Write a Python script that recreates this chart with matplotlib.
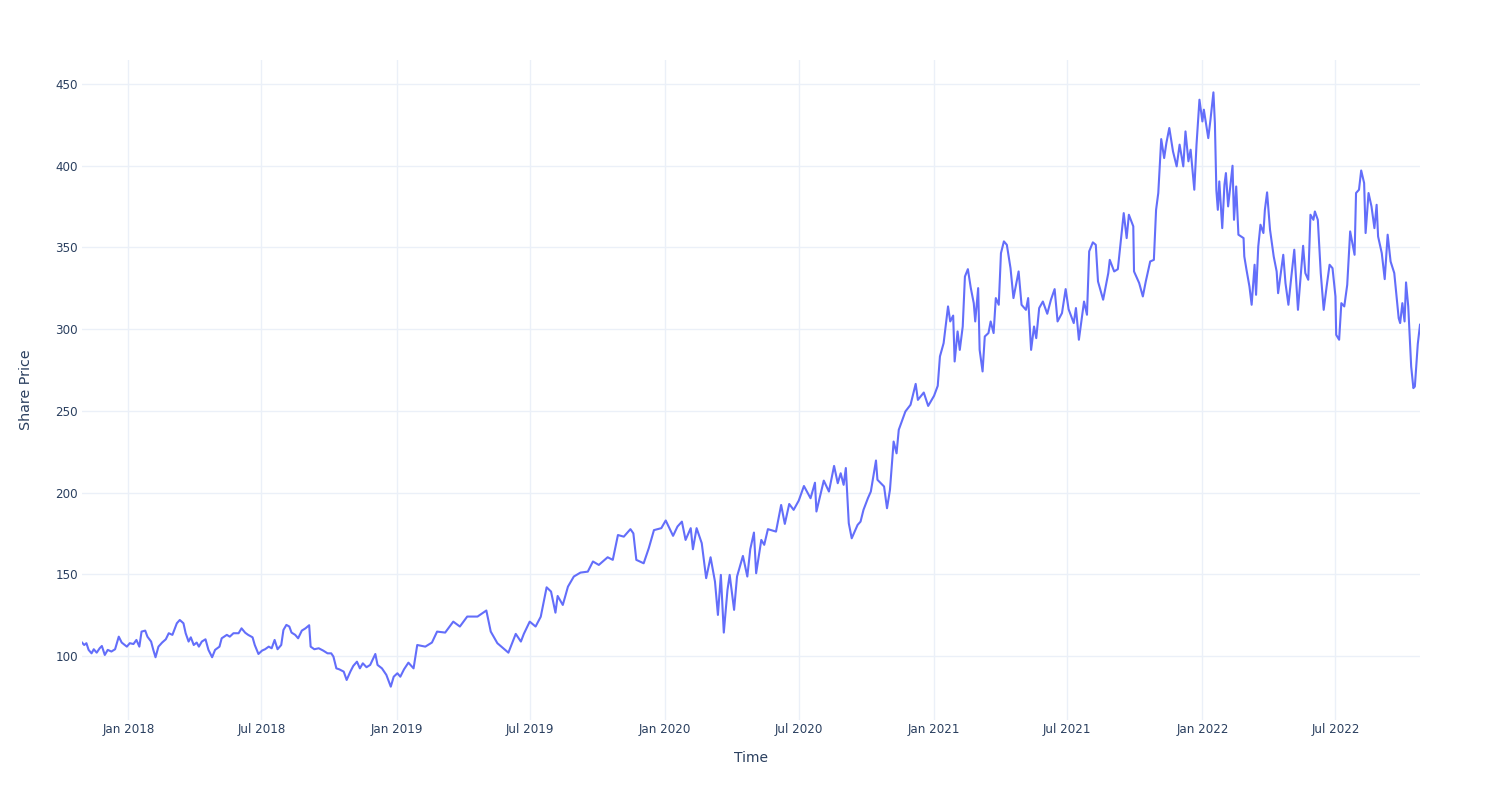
import matplotlib
matplotlib.use("Agg")
import matplotlib.pyplot as plt
import matplotlib.dates as mdates
import pandas as pd

# values (roughly every few trading days)
dates = [
    "2017-10-30", "2017-11-02", "2017-11-05", "2017-11-08", "2017-11-12", "2017-11-15",
    "2017-11-19", "2017-11-23", "2017-11-26", "2017-11-30", "2017-12-04", "2017-12-09",
    "2017-12-14", "2017-12-19", "2017-12-23", "2017-12-30", "2018-01-03", "2018-01-08",
    "2018-01-12", "2018-01-16", "2018-01-19", "2018-01-24", "2018-01-27", "2018-02-01",
    "2018-02-04", "2018-02-07", "2018-02-11", "2018-02-16", "2018-02-21", "2018-02-25",
    "2018-03-02", "2018-03-08", "2018-03-12", "2018-03-17", "2018-03-20", "2018-03-24",
    "2018-03-27", "2018-03-31", "2018-04-04", "2018-04-07", "2018-04-11", "2018-04-16",
    "2018-04-20", "2018-04-25", "2018-04-29", "2018-05-05", "2018-05-08", "2018-05-15",
    "2018-05-19", "2018-05-24", "2018-05-31", "2018-06-04", "2018-06-09", "2018-06-13",
    "2018-06-19", "2018-06-22", "2018-06-27", "2018-07-02", "2018-07-06", "2018-07-11",
    "2018-07-15", "2018-07-19", "2018-07-23", "2018-07-28", "2018-07-31", "2018-08-04",
    "2018-08-08", "2018-08-11", "2018-08-16", "2018-08-20", "2018-08-25", "2018-08-30",
    "2018-09-04", "2018-09-06", "2018-09-11", "2018-09-17", "2018-09-23", "2018-09-29",
    "2018-10-04", "2018-10-07", "2018-10-11", "2018-10-15", "2018-10-21", "2018-10-25",
    "2018-10-30", "2018-11-03", "2018-11-08", "2018-11-12", "2018-11-16", "2018-11-21",
    "2018-11-26", "2018-12-03", "2018-12-06", "2018-12-12", "2018-12-18", "2018-12-24",
    "2018-12-28", "2019-01-02", "2019-01-06", "2019-01-11", "2019-01-17",
    "2019-01-24", "2019-01-29", "2019-02-09", "2019-02-18", "2019-02-25", "2019-03-08",
    "2019-03-19", "2019-03-28", "2019-04-07", "2019-04-21", "2019-05-03", "2019-05-09",
    "2019-05-18", "2019-06-02", "2019-06-12", "2019-06-19", "2019-06-23", "2019-07-01",
    "2019-07-09", "2019-07-16", "2019-07-24", "2019-07-30", "2019-08-05", "2019-08-08",
    "2019-08-15", "2019-08-22", "2019-08-30", "2019-09-08", "2019-09-18", "2019-09-25",
    "2019-10-03", "2019-10-15", "2019-10-22", "2019-10-29", "2019-11-06", "2019-11-15",
    "2019-11-19", "2019-11-23", "2019-12-03", "2019-12-10", "2019-12-17", "2019-12-27",
    "2020-01-02", "2020-01-12", "2020-01-18", "2020-01-24", "2020-01-29", "2020-02-05",
    "2020-02-08", "2020-02-13", "2020-02-20", "2020-02-26", "2020-03-03", "2020-03-09",
    "2020-03-13", "2020-03-17", "2020-03-21", "2020-03-26", "2020-03-29", "2020-04-04",
    "2020-04-08", "2020-04-16", "2020-04-22", "2020-04-26", "2020-05-01", "2020-05-04",
    "2020-05-11", "2020-05-15", "2020-05-20", "2020-05-31", "2020-06-07", "2020-06-12",
    "2020-06-18", "2020-06-24", "2020-07-01", "2020-07-08", "2020-07-17", "2020-07-23",
    "2020-07-25", "2020-08-04", "2020-08-11", "2020-08-18", "2020-08-23", "2020-08-27",
    "2020-08-31", "2020-09-03", "2020-09-07", "2020-09-11", "2020-09-19", "2020-09-23",
    "2020-09-27", "2020-10-03", "2020-10-07", "2020-10-14", "2020-10-16", "2020-10-25",
    "2020-10-29", "2020-11-02", "2020-11-07", "2020-11-11", "2020-11-14", "2020-11-23",
    "2020-11-30", "2020-12-07", "2020-12-10", "2020-12-18", "2020-12-24", "2021-01-01",
    "2021-01-06", "2021-01-09", "2021-01-14", "2021-01-20", "2021-01-23", "2021-01-27",
    "2021-01-29", "2021-02-02", "2021-02-05", "2021-02-09", "2021-02-12", "2021-02-16",
    "2021-02-20", "2021-02-24", "2021-02-26", "2021-03-02", "2021-03-04", "2021-03-08",
    "2021-03-11", "2021-03-16", "2021-03-19", "2021-03-23", "2021-03-26", "2021-03-30",
    "2021-04-02", "2021-04-06", "2021-04-10", "2021-04-15", "2021-04-19", "2021-04-26",
    "2021-04-30", "2021-05-06", "2021-05-09", "2021-05-13", "2021-05-17", "2021-05-20",
    "2021-05-24", "2021-05-29", "2021-06-04", "2021-06-09", "2021-06-14", "2021-06-18",
    "2021-06-24", "2021-06-29", "2021-07-03", "2021-07-10", "2021-07-13", "2021-07-17",
    "2021-07-24", "2021-07-28", "2021-07-31", "2021-08-05", "2021-08-09", "2021-08-12",
    "2021-08-19", "2021-08-26", "2021-08-28", "2021-09-03", "2021-09-08", "2021-09-11",
    "2021-09-16", "2021-09-20", "2021-09-23", "2021-09-29", "2021-09-30", "2021-10-07",
    "2021-10-12", "2021-10-16", "2021-10-22", "2021-10-27", "2021-10-30", "2021-11-02",
    "2021-11-06", "2021-11-10", "2021-11-13", "2021-11-17", "2021-11-22", "2021-11-27",
    "2021-12-01", "2021-12-06", "2021-12-09", "2021-12-13", "2021-12-16", "2021-12-21",
    "2021-12-24", "2021-12-28", "2022-01-01", "2022-01-03", "2022-01-09", "2022-01-12",
    "2022-01-16", "2022-01-18", "2022-01-20", "2022-01-22", "2022-01-24", "2022-01-28",
    "2022-01-31", "2022-02-02", "2022-02-05", "2022-02-11", "2022-02-13", "2022-02-16",
    "2022-02-19", "2022-02-26", "2022-02-27", "2022-03-02", "2022-03-06", "2022-03-09",
    "2022-03-13", "2022-03-15", "2022-03-18", "2022-03-21", "2022-03-25", "2022-03-27",
    "2022-03-30", "2022-04-03", "2022-04-08", "2022-04-12", "2022-04-14", "2022-04-21",
    "2022-04-24", "2022-04-28", "2022-05-02", "2022-05-06", "2022-05-09", "2022-05-11",
    "2022-05-18", "2022-05-21", "2022-05-25", "2022-05-28", "2022-06-01", "2022-06-03",
    "2022-06-07", "2022-06-11", "2022-06-15", "2022-06-19", "2022-06-23", "2022-06-27",
    "2022-07-01", "2022-07-02", "2022-07-06", "2022-07-09", "2022-07-13", "2022-07-17",
    "2022-07-21", "2022-07-27", "2022-07-29", "2022-08-02", "2022-08-05", "2022-08-09",
    "2022-08-11", "2022-08-15", "2022-08-19", "2022-08-23", "2022-08-26", "2022-08-28",
    "2022-09-02", "2022-09-06", "2022-09-10", "2022-09-14", "2022-09-19", "2022-09-25",
    "2022-09-27", "2022-09-30", "2022-10-03", "2022-10-05", "2022-10-08", "2022-10-12",
    "2022-10-15", "2022-10-17", "2022-10-21", "2022-10-24",
]
prices = [
    108.2, 106.7, 107.8, 103.7, 101.6, 104.1,
    102.0, 104.7, 106.1, 100.6, 103.7, 102.7,
    104.1, 111.8, 108.2, 105.7, 107.8, 107.3,
    109.8, 105.7, 114.9, 115.5, 111.8, 108.8,
    103.7, 99.2, 105.7, 108.2, 110.2, 113.9,
    112.9, 120.0, 122.0, 120.0, 113.9, 108.8,
    111.4, 106.7, 108.2, 105.7, 108.8, 110.2,
    103.7, 99.2, 103.7, 105.7, 110.8, 112.9,
    111.8, 113.9, 113.9, 116.9, 114.2, 112.9,
    111.4, 106.7, 101.2, 103.3, 104.1, 105.7,
    104.7, 109.8, 104.1, 106.7, 115.9, 119.0,
    118.0, 114.3, 112.9, 110.8, 115.5, 116.9,
    118.8, 105.7, 104.1, 104.7, 103.3, 101.6,
    101.6, 99.6, 92.4, 91.8, 90.4, 85.3,
    90.4, 93.9, 96.5, 92.4, 95.5, 93.1,
    94.5, 101.2, 94.5, 92.4, 88.4, 81.2,
    87.3, 89.4, 87.3, 91.8, 95.9,
    92.4, 106.7, 105.7, 108.2, 114.9, 114.3,
    121.0, 118.0, 124.1, 124.1, 127.8, 114.9,
    107.8, 102.0, 113.5, 108.8, 113.5, 121.0,
    118.0, 124.0, 142.0, 139.4, 126.5, 136.7,
    131.2, 142.4, 148.6, 151.0, 151.6, 157.8,
    155.7, 160.4, 158.8, 174.0, 173.0, 177.6,
    175.0, 158.8, 156.7, 166.0, 177.0, 178.2,
    182.9, 173.5, 179.2, 182.2, 171.0, 178.2,
    165.3, 178.2, 169.0, 147.6, 160.4, 145.5,
    125.1, 149.6, 114.3, 140.4, 149.6, 128.2,
    148.6, 161.2, 148.6, 165.3, 175.5, 150.6,
    171.0, 168.0, 177.6, 176.1, 192.4, 180.8,
    193.0, 189.4, 195.1, 204.0, 196.5, 206.0,
    188.4, 207.3, 200.6, 216.3, 205.7, 211.8,
    204.7, 215.0, 181.2, 172.0, 180.2, 182.2,
    189.4, 196.5, 200.6, 219.6, 207.8, 203.7,
    190.4, 201.6, 231.2, 224.0, 238.4, 249.6,
    253.7, 266.5, 256.7, 261.2, 253.0, 259.2,
    265.3, 283.3, 291.4, 313.9, 304.7, 308.3,
    280.2, 298.6, 287.3, 301.6, 332.2, 336.7,
    325.1, 315.9, 304.7, 325.1, 287.3, 274.1,
    295.5, 297.6, 304.7, 297.6, 319.0, 314.9,
    346.5, 353.7, 351.6, 337.3, 319.0, 335.3,
    314.9, 311.8, 319.0, 287.3, 301.6, 294.5,
    312.9, 316.9, 309.4, 318.0, 324.5, 304.7,
    309.8, 324.5, 312.2, 303.7, 312.9, 293.5,
    316.9, 308.8, 347.6, 353.1, 351.6, 329.2,
    318.0, 334.3, 342.4, 335.3, 336.7, 349.6,
    371.0, 355.7, 370.0, 362.9, 335.3, 328.2,
    320.0, 329.2, 341.4, 342.4, 373.0, 383.3,
    416.3, 404.7, 413.9, 423.1, 408.8, 399.6,
    412.9, 399.6, 421.0, 402.7, 409.8, 385.3,
    412.9, 440.4, 427.1, 434.3, 416.9, 428.2,
    444.9, 426.1, 385.0, 373.0, 390.4, 361.8,
    388.4, 395.5, 375.1, 400.0, 366.9, 387.3,
    357.8, 355.7, 344.5, 336.3, 326.1, 314.9,
    339.4, 321.0, 350.6, 363.9, 358.8, 373.0,
    383.7, 360.8, 344.5, 335.3, 322.0, 345.5,
    328.2, 314.9, 332.2, 348.6, 326.1, 311.8,
    351.0, 334.3, 330.2, 370.0, 366.9, 372.0,
    366.9, 334.3, 311.8, 326.1, 339.4, 337.3,
    320.0, 296.5, 293.5, 315.9, 313.9, 327.1,
    359.8, 345.5, 383.3, 385.3, 397.1, 389.4,
    358.8, 383.3, 375.1, 361.8, 376.1, 356.7,
    346.5, 330.6, 357.8, 341.4, 334.3, 306.7,
    303.7, 315.9, 304.7, 328.6, 313.9, 277.1,
    263.9, 264.9, 291.0, 302.7,
]
yticks = [100, 150, 200, 250, 300, 350, 400, 450]

x = pd.to_datetime(dates)

fig = plt.figure(figsize=(15, 8), dpi=100)
ax = fig.add_axes([82 / 1500, 80 / 800, 1338 / 1500, 660 / 800])

ax.plot(x, prices, color="#636EFA", linewidth=1.5, zorder=3)

ax.set_xlim(x[0], x[-1])
ax.set_ylim(60.8, 464.7)
ax.set_yticks(yticks)
ax.xaxis.set_major_locator(mdates.MonthLocator(bymonth=[1, 7]))
ax.xaxis.set_major_formatter(mdates.DateFormatter("%b %Y"))

ax.grid(True, color="#EBF0F8", linewidth=1)
ax.set_axisbelow(True)
for s in ax.spines.values():
    s.set_visible(False)

ax.tick_params(axis="both", length=0, labelsize=8.6, labelcolor="#2a3f5f")
ax.tick_params(axis="x", pad=2)
ax.tick_params(axis="y", pad=3)

ax.set_xlabel("Time", fontsize=10, color="#2a3f5f", labelpad=11)
ax.set_ylabel("Share Price", fontsize=10.3, color="#2a3f5f", labelpad=16)

fig.savefig("out.png", dpi=100, facecolor="white")
